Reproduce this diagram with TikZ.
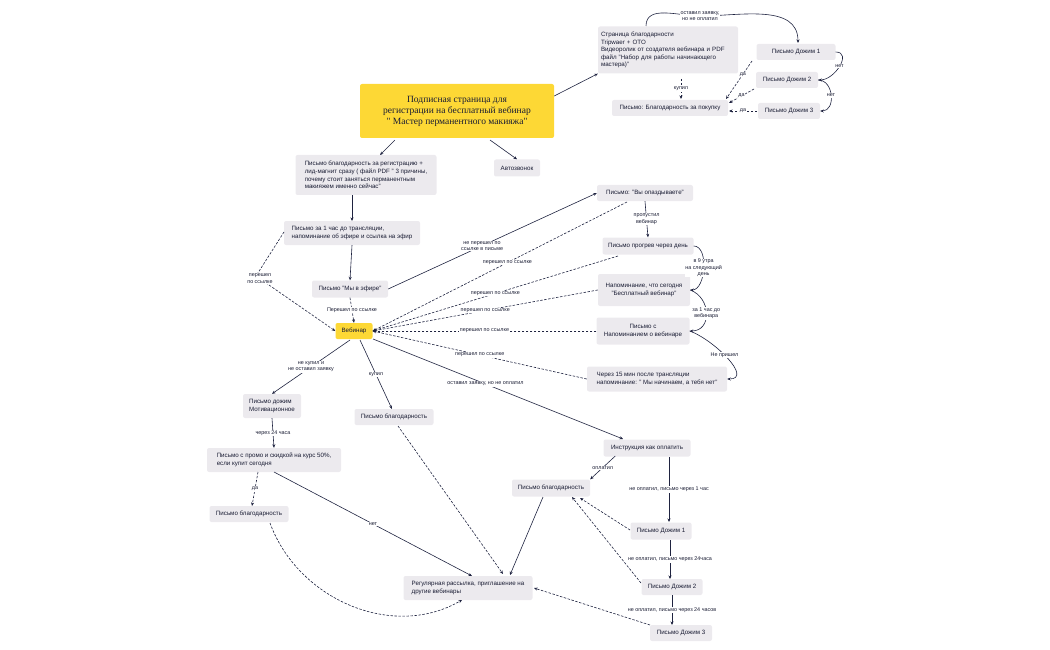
\documentclass[tikz,border=0pt]{standalone}
\usepackage{fontspec}
\setmainfont{Liberation Sans}
\newfontfamily\titlefont{Liberation Serif}
\usetikzlibrary{arrows.meta}
\definecolor{boxc}{HTML}{ECEAEE}
\definecolor{ylw}{HTML}{FDD835}
\definecolor{ln}{HTML}{1F2340}
\begin{document}
\begin{tikzpicture}[x=1pt,y=-1pt,
  bx/.style={fill=boxc,rounded corners=2pt,inner sep=2pt,font=\fontsize{6.2}{7.6}\selectfont,text=ln!80!black},
  yb/.style={bx,fill=ylw},
  e/.style={draw=ln,line width=0.6pt,-{Stealth[length=3.5pt,width=3pt]}},
  d/.style={e,dashed,dash pattern=on 2.5pt off 1.5pt},
  lb/.style={fill=white,inner sep=0.6pt,font=\fontsize{5.4}{6.4}\selectfont,text=ln!80!black,align=center}]
\useasboundingbox (0,0) rectangle (1050,650);
\node[yb,minimum width=194,minimum height=54,align=center,font=\titlefont\fontsize{9.5}{11}\selectfont] (title) at (457,111) {Подписная страница для\\регистрации на бесплатный вебинар\\" Мастер перманентного макияжа"};
\node[bx,minimum width=140,minimum height=47,align=left,text width=134] (page) at (668,50) {Страница благодарности\\Tripwaer + OTO\\Видеоролик от создателя вебинара и PDF файл  "Набор для работы начинающего мастера)"};
\node[bx,minimum width=116,minimum height=16] (buy) at (670,108) {Письмо: Благодарность за покупку};
\node[bx,minimum width=79,minimum height=16] (d1) at (796,52) {Письмо Дожим 1};
\node[bx,minimum width=62,minimum height=16] (d2) at (787,80) {Письмо Дожим 2};
\node[bx,minimum width=62,minimum height=16] (d3) at (789,111) {Письмо Дожим 3};
\node[bx,minimum width=141,minimum height=40,align=left] (reg) at (366,175) {Письмо благодарность за регистрацию +\\лид-магнит сразу ( файл PDF " 3 причины,\\почему стоит заняться перманентным\\макияжем именно сейчас"};
\node[bx,minimum width=46,minimum height=17] (avto) at (517,168) {Автозвонок};
\node[bx,minimum width=136,minimum height=24,align=left] (hour) at (352,233) {Письмо за 1 час до трансляции,\\напоминание об эфире и ссылка на эфир};
\node[bx,minimum width=76,minimum height=17] (efir) at (350,289) {Письмо "Мы в эфире"};
\node[yb,minimum width=37,minimum height=16] (web) at (354,331) {Вебинар};
\node[bx,minimum width=96,minimum height=16] (late) at (645,193) {Письмо: "Вы опаздываете"};
\node[bx,minimum width=91,minimum height=17] (prog) at (648,246) {Письмо прогрев через день};
\node[bx,minimum width=92,minimum height=32,align=center] (today) at (644,290) {Напоминание, что сегодня\\"Бесплатный вебинар"};
\node[bx,minimum width=93,minimum height=27,align=center] (rem) at (643,331) {Письмо с\\Напоминанием о вебинаре};
\node[bx,minimum width=140,minimum height=25,align=left] (l15) at (657,379) {Через 15 мин после трансляции\\напоминание: " Мы начинаем, а тебя нет"};
\node[bx,minimum width=58,minimum height=24,align=left] (motiv) at (272,406) {Письмо дожим\\Мотивационное};
\node[bx,minimum width=79,minimum height=16] (th1) at (394,417) {Письмо благодарность};
\node[bx,minimum width=134,minimum height=24,align=left] (promo) at (274,460) {Письмо с промо и скидкой на курс 50\%,\\если купит сегодня};
\node[bx,minimum width=79,minimum height=16] (th2) at (249,514) {Письмо благодарность};
\node[bx,minimum width=129,minimum height=24,align=left] (reg2) at (468,588) {Регулярная рассылка, приглашение на\\другие вебинары};
\node[bx,minimum width=87,minimum height=17] (instr) at (647,448) {Инструкция как оплатить};
\node[bx,minimum width=78,minimum height=17] (th3) at (551,488) {Письмо благодарность};
\node[bx,minimum width=61,minimum height=17] (dd1) at (661,531) {Письмо Дожим 1};
\node[bx,minimum width=61,minimum height=16] (dd2) at (672,587) {Письмо Дожим 2};
\node[bx,minimum width=62,minimum height=16] (dd3) at (681,633) {Письмо Дожим 3};
% top
\draw[e] (title.east|-0,96) -- (page.south west);
\draw[e] (title.south west)++(35,2) -- (380,155);
\draw[e] (490,140) -- (avto.north);
\draw[e] (646,26) to[out=90,in=180] (700,16) node[lb]{оставил заявку,\\но не оплатил} to[out=0,in=90] (798,43);
\draw[d] (681,79) -- node[lb]{купил} (681,99);
\draw[d] (752,61) -- node[lb,pos=0.35]{да} (726,99);
\draw[d] (754,89) -- node[lb]{да} (729,103);
\draw[d] (757,111) -- node[lb]{да} (729,111);
\draw[e] (d1.east) to[out=0,in=0,looseness=1.3] node[lb]{нет} (d2.east);
\draw[e] (d2.east) to[out=0,in=0,looseness=1.3] node[lb]{нет} (d3.east);
% left column
\draw[e] (reg.south) ++(-14,0) -- (352,221);
\draw[e] (hour.south) -- (efir.north);
\draw[d] (efir.south) -- node[lb]{Перешел по ссылке} (web.north);
\draw[d] (284,232) -- (256,276) -- node[lb,pos=0.05]{перешел\\по ссылке} (web.west);
\draw[e] (efir.east) -- node[lb,pos=0.45]{не перешел по\\ссылке в письме} (late.west);
\draw[e] (late.south) -- node[lb]{пропустил\\вебинар} (prog.north);
\draw[e] (prog.east) to[out=0,in=0,looseness=0.9] node[lb]{в 9 утра\\на следующий\\день} (today.east);
\draw[e] (today.east) to[out=-20,in=0,looseness=1.4] node[lb]{за 1 час до\\вебинара} (rem.east);
\draw[e] (rem.east) to[out=-20,in=0,looseness=1.1] node[lb,pos=0.45]{Не пришел} (l15.east);
\draw[d] (627,202) -- node[lb,pos=0.47]{перешел по ссылке} (web.east);
\draw[d] (618,256) -- node[lb,pos=0.5]{перешел по ссылке} (web.east);
\draw[d] (today.west) -- node[lb,pos=0.5]{перешел по ссылке} (web.east);
\draw[d] (rem.west) -- node[lb,pos=0.5]{перешел по ссылке} (web.east);
\draw[d] (l15.west) -- node[lb,pos=0.5]{перешел по ссылке} (web.east);
\draw[e] (350,340) -- node[lb]{не купил и\\не оставил заявку} (motiv.north);
\draw[e] (360,340) -- node[lb]{купил} (392,409);
\draw[e] (373,339) -- node[lb,pos=0.45]{оставил заявку, но не оплатил} (623,439);
\draw[e] (motiv.south) -- node[lb]{через 24 часа} (promo.north);
\draw[d] (258,472) -- node[lb]{да} (252,506);
\draw[e] (274,472) -- node[lb,pos=0.5]{нет} (472,576);
\draw[d] (398,426) -- (503,574);
\draw[d] (270,523) to[out=-70,in=-150] (462,600);
\draw[e] (instr.west) ++(12,8) -- node[lb]{оплатил} (th3.north east);
\draw[e] (543,497) -- (510,575);
\draw[e] (669,457) -- node[lb]{не оплатил, письмо через 1 час} (669,522);
\draw[d] (630,530) -- (580,498);
\draw[d] (641,583) -- (572,497);
\draw[e] (670,540) -- node[lb]{не оплатил, письмо через 24часа} (670,579);
\draw[e] (672,595) -- node[lb]{не оплатил, письмо через 24 часов} (672,625);
\draw[d] (650,625) -- (534,588);
\end{tikzpicture}
\end{document}
